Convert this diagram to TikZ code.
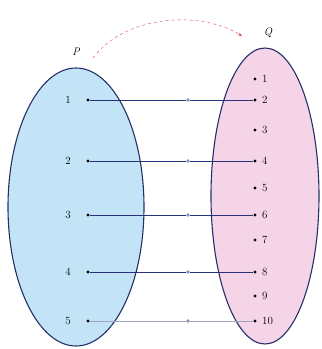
\documentclass[tikz,border=0pt]{standalone}
\usetikzlibrary{arrows.meta}
\definecolor{setblue}{RGB}{195,228,247}
\definecolor{setpink}{RGB}{246,212,232}
\definecolor{rim}{RGB}{38,48,105}
\definecolor{link}{RGB}{40,50,120}
\definecolor{arcred}{RGB}{225,70,70}
\begin{document}
\begin{tikzpicture}[x=1pt,y=-1pt,
  setshape/.style={draw=rim,line width=1.1pt},
  pt/.style={circle,fill=black,inner sep=0pt,minimum size=3.4pt},
  mid/.style={circle,fill=link!55,inner sep=0pt,minimum size=3.6pt},
  lbl/.style={font=\fontsize{11}{13}\selectfont,inner sep=1pt},
  edge/.style={draw=link,line width=0.9pt},
  setname/.style={font=\fontsize{11}{13}\selectfont\itshape}]
\useasboundingbox (0,0) rectangle (322,349);
\fill[white] (0,0) rectangle (322,349);
\draw[setshape,fill=setblue] (76,207) ellipse [x radius=68, y radius=139];
\draw[setshape,fill=setpink] (265,196) ellipse [x radius=54, y radius=148];
\node[setname] (P) at (76,52) {P};
\node[setname] (Q) at (268,33) {Q};
\coordinate (a0) at (93,58);
\coordinate (a1) at (242,36);
\draw[arcred,dashed,-{Stealth[length=4pt]}] (a0) .. controls (125,15) and (200,10) .. (a1);
% P points
\foreach \i/\y in {1/100,2/161,3/215,4/272,5/321}{
  \node[pt] (p\i) at (88,\y) {};
  \node[lbl,anchor=east] (pl\i) at (72,\y) {\i};
}
% Q points
\foreach \i/\y in {1/79,2/100,3/130,4/161,5/188,6/215,7/240,8/272,9/296,10/321}{
  \node[pt] (q\i) at (255,\y) {};
  \node[lbl,anchor=west] (ql\i) at (261,\y) {\i};
}
% connectors
\foreach \a/\b/\y in {1/2/100,2/4/161,3/6/215,4/8/272}{
  \node[mid] (m\a) at (188,\y) {};
  \draw[edge] (p\a) -- (m\a) -- (q\b);
}
\node[mid] (m5) at (188,321) {};
\draw[draw=link!45,line width=0.7pt] (p5) -- (m5) -- (q10);
\end{tikzpicture}
\end{document}
